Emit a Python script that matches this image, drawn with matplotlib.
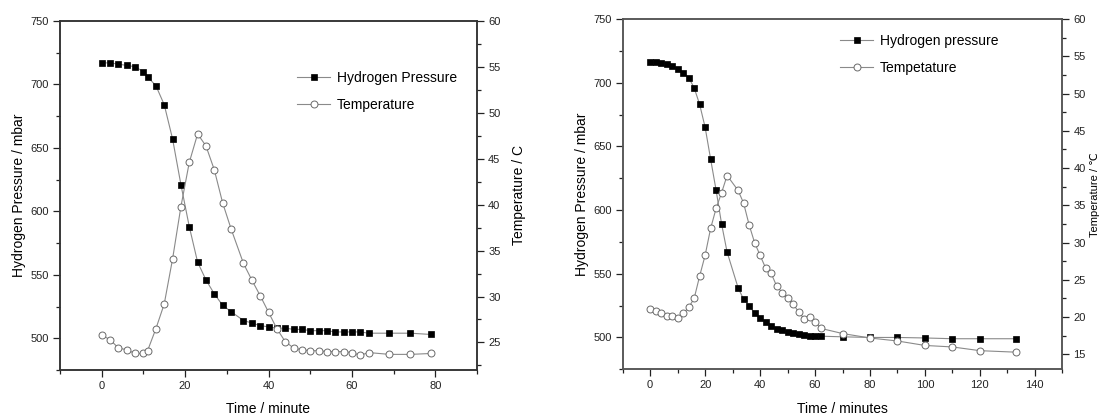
import matplotlib
matplotlib.use("Agg")
import matplotlib.pyplot as plt
from matplotlib.ticker import MultipleLocator

plt.rcParams['font.family'] = ['Liberation Sans', 'DejaVu Sans']

# ---------------- Left chart data ----------------
time_a = [0, 2, 4, 6, 8, 10, 11, 13, 15, 17, 19, 21, 23, 25, 27, 29, 31, 34, 36, 38,
          40, 42, 44, 46, 48, 50, 52, 54, 56, 58, 60, 62, 64, 69, 74, 79]
pressure_a = [717, 717, 716, 715, 714, 710, 706, 699, 684, 657, 621, 588, 560, 546, 535,
              526, 521, 514, 512, 510, 509, 508, 508, 507, 507, 506, 506, 506, 505, 505,
              505, 505, 504, 504, 504, 503]
temp_a = [25.8, 25.3, 24.4, 24.2, 23.8, 23.8, 24.1, 26.5, 29.2, 34.1, 39.8, 44.6, 47.7,
          46.4, 43.8, 40.2, 37.4, 33.6, 31.8, 30.1, 28.3, 26.5, 25.1, 24.4, 24.2, 24.1,
          24.1, 24.0, 24.0, 24.0, 23.9, 23.6, 23.9, 23.7, 23.7, 23.8]

# ---------------- Right chart data ----------------
time_b = [0, 2, 4, 6, 8, 10, 12, 14, 16, 18, 20, 22, 24, 26, 28, 32, 34, 36, 38, 40,
          42, 44, 46, 48, 50, 52, 54, 56, 58, 60, 62, 70, 80, 90, 100, 110, 120, 133]
pressure_b = [716, 716, 715.3, 715, 713, 711, 708, 704, 696, 683, 665, 640, 615.5, 589,
              567, 539, 530, 525, 519, 515, 512, 509, 507, 505.5, 504.5, 503.5, 503,
              502, 501.5, 501, 501, 500.5, 500, 500, 499.6, 499, 499, 499]
temp_b = [21.1, 20.8, 20.5, 20.1, 20.2, 19.9, 20.5, 21.3, 22.5, 25.5, 28.3, 31.9, 34.6,
          36.7, 39.0, 37.0, 35.3, 32.4, 30.0, 28.3, 26.6, 25.9, 24.2, 23.3, 22.5, 21.8,
          20.7, 19.8, 20.0, 19.4, 18.5, 17.8, 17.2, 16.8, 16.2, 16.0, 15.5, 15.3]

legend_a = ["Hydrogen Pressure", "Temperature"]
legend_b = ["Hydrogen pressure", "Tempetature"]

W, H = 1099, 416
fig = plt.figure(figsize=(W / 100, H / 100), dpi=100)

LINE = '#8a8a8a'
CIRC = '#6a6a6a'


def style_axis(ax, color, lw):
    for s in ax.spines.values():
        s.set_color(color)
        s.set_linewidth(lw)
    ax.tick_params(which='both', direction='out', colors='#222222', labelsize=8,
                   width=0.9)
    ax.tick_params(which='major', length=5, pad=3)
    ax.tick_params(which='minor', length=3)
    ax.tick_params(axis='x', which='both', top=False)


def make_panel(rect, t, p, temp, xlim, xmaj, tlim, labels, xlabel, tlabel,
               tlabel_size, leg_xy, spine_color):
    ax = fig.add_axes(rect)
    ax2 = ax.twinx()
    l1, = ax.plot(t, p, '-', color=LINE, lw=0.8, marker='s', ms=4.4,
                  mfc='black', mec='black', mew=0.5)
    l2, = ax2.plot(t, temp, '-', color=LINE, lw=0.8, marker='o', ms=5.0,
                   mfc='white', mec=CIRC, mew=0.7)
    ax.set_xlim(*xlim)
    ax.set_ylim(475, 750)
    ax2.set_ylim(*tlim)
    ax.xaxis.set_major_locator(MultipleLocator(xmaj))
    ax.xaxis.set_minor_locator(MultipleLocator(xmaj / 2))
    ax.yaxis.set_major_locator(MultipleLocator(50))
    ax.yaxis.set_minor_locator(MultipleLocator(25))
    ax2.yaxis.set_major_locator(MultipleLocator(5))
    ax2.yaxis.set_minor_locator(MultipleLocator(2.5))
    style_axis(ax, spine_color, 1.1)
    style_axis(ax2, spine_color, 1.1)
    ax.set_xlabel(xlabel, fontsize=10, labelpad=8)
    ax.set_ylabel("Hydrogen Pressure / mbar", fontsize=10, labelpad=3)
    ax2.set_ylabel(tlabel, fontsize=tlabel_size, labelpad=8 if tlabel_size > 9 else 3)
    fig.legend([l1, l2], labels, loc='upper left',
               bbox_to_anchor=(leg_xy[0] / W, 1 - leg_xy[1] / H),
               frameon=False, fontsize=10, handlelength=2.4, handletextpad=0.45,
               labelspacing=0.95, borderpad=0, borderaxespad=0)
    return ax, ax2


make_panel([60 / W, 1 - 370 / H, 417 / W, 349 / H], time_a, pressure_a, temp_a,
           (-10, 90), 20, (22, 60), legend_a, "Time / minute", "Temperature / C",
           10, (297, 71), '#333333')

make_panel([622.7 / W, 1 - 369.3 / H, 439.6 / W, 350.3 / H], time_b, pressure_b, temp_b,
           (-10, 150), 20, (13, 60), legend_b, "Time / minutes", "Temperature / ℃",
           8, (840, 34), '#555555')

fig.savefig("out.png", dpi=100)
